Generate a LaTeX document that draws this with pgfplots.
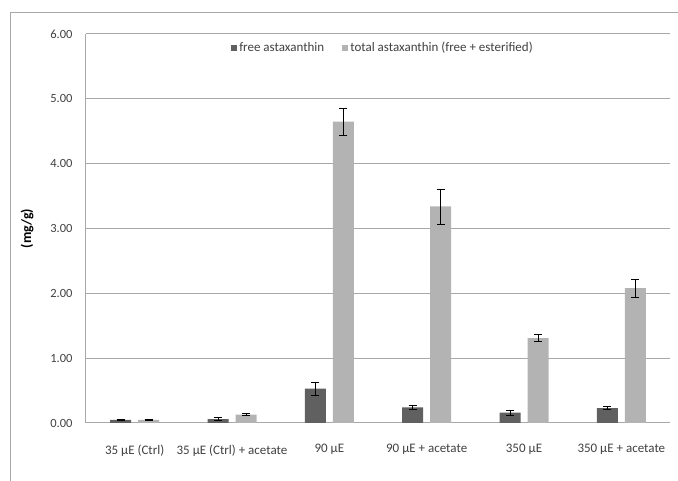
\documentclass[border=0pt]{standalone}
\usepackage{pgfplots}
\pgfplotsset{compat=1.18}
\usepackage{pgfplotstable}
\usepackage{fontspec}
\setmainfont{Carlito}
\definecolor{darkbar}{HTML}{606060}
\definecolor{lightbar}{HTML}{B3B3B3}
\definecolor{gridc}{HTML}{A8A8A8}
\definecolor{txt}{HTML}{404040}
\pgfplotstableread{
x free freeerr total totalerr
0 0.05 0.005 0.05 0.008
1 0.06 0.02 0.13 0.012
2 0.53 0.10 4.65 0.21
3 0.24 0.03 3.34 0.27
4 0.16 0.04 1.31 0.05
5 0.23 0.02 2.08 0.14
}\data
\begin{document}
\begin{tikzpicture}
\draw[gridc, line width=0.8pt] (10pt,-2pt) -- (10pt,469pt) -- (680pt,469pt);
\begin{axis}[
  at={(86pt,58pt)}, anchor=south west,
  width=584pt, height=389pt, scale only axis,
  ymin=0, ymax=6, ytick={0,1,2,3,4,5,6},
  xmin=-0.5, xmax=5.5, xtick={0,1,2,3,4,5},
  xticklabels={35 µE (Ctrl), 35 µE (Ctrl) + acetate, 90 µE, 90 µE + acetate, 350 µE, 350 µE + acetate},
  ybar=7pt, bar width=21pt,
  axis x line*=bottom, axis y line*=left,
  axis line style={-, draw=gridc, line width=1pt},
  ymajorgrids, grid style={gridc, line width=1pt},
  major tick length=0pt,
  font=\fontsize{13}{15}\selectfont,
  tick label style={text=txt},
  yticklabel style={font=\fontsize{12.5}{15}\selectfont, xshift=-10pt},
  xticklabel style={font=\fontsize{13}{15}\selectfont, yshift=-18pt},
  /pgf/number format/fixed, /pgf/number format/fixed zerofill,
  /pgf/number format/precision=2, /pgf/number format/assume math mode=true,
  ylabel={\bfseries (mg/g)},
  ylabel style={at={(axis description cs:-0.101,0.5)}, anchor=center, text=black, font=\fontsize{14}{16}\selectfont},
  legend style={at={(0.5,1)}, anchor=north, xshift=5pt, yshift=-4pt, draw=none, fill=none,
    legend columns=2, font=\fontsize{13}{15}\selectfont, text=txt,
    /tikz/every even column/.append style={column sep=16pt}},
  legend image code/.code={\fill[#1] (0pt,-3pt) rectangle (6pt,3pt);},
  error bars/error bar style={black, line width=0.8pt},
  error bars/error mark options={rotate=90, mark size=4pt, line width=0.8pt, black},
]
\addplot[fill=darkbar, draw=none, error bars/.cd, y dir=both, y explicit]
  table[x=x, y=free, y error=freeerr]{\data};
\addlegendentry{free astaxanthin}
\addplot[fill=lightbar, draw=none, error bars/.cd, y dir=both, y explicit]
  table[x=x, y=total, y error=totalerr]{\data};
\addlegendentry{total astaxanthin (free + esterified)}
\end{axis}
\pgfresetboundingbox
\path[use as bounding box] (0pt,0pt) rectangle (678pt,481pt);
\end{tikzpicture}
\end{document}
